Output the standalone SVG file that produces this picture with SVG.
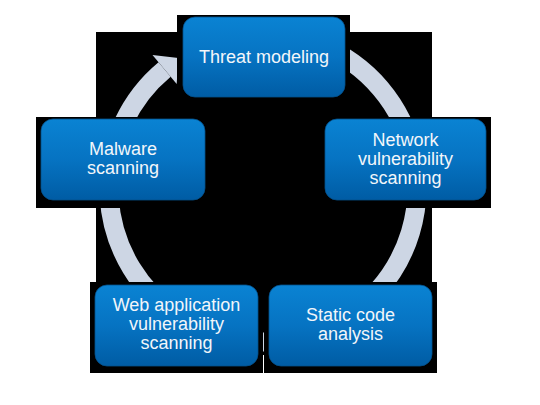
<svg xmlns="http://www.w3.org/2000/svg" width="540" height="405" viewBox="0 0 540 405">
  <defs>
    <linearGradient id="boxGrad" x1="0" y1="0" x2="0" y2="1">
      <stop offset="0" stop-color="#0a83d3"/>
      <stop offset="0.5" stop-color="#0673c2"/>
      <stop offset="1" stop-color="#005ca4"/>
    </linearGradient>
    <style>
      .bg { fill: #000000; }
      .box { fill: url(#boxGrad); stroke: #04508c; stroke-width: 0.8; }
      .lbl { font-family: "Liberation Sans", Arial, sans-serif; font-size: 18px; fill: #f2f6fa; text-anchor: middle; }
      .ring { fill: none; stroke: #cdd6e4; stroke-width: 19; }
      .head { fill: #cdd6e4; }
    </style>
  </defs>
  <rect x="0" y="0" width="540" height="405" fill="#ffffff"/>

  <g id="backdrop">
    <rect class="bg" x="96" y="32" width="336" height="323"/>
  </g>

  <g id="connectors">
    <path class="ring" d="M 263 34 A 154 154 0 1 1 164.6 69.5"/>
    <polygon class="head" points="152.5,54.9 178.4,58.0 176.7,84.1"/>
  </g>

  <g id="threat-modeling">
    <rect class="bg" x="177" y="15" width="173" height="88"/>
    <rect class="box" x="183" y="17" width="162" height="80" rx="12"/>
    <text class="lbl" x="264" y="63">Threat modeling</text>
  </g>

  <g id="malware-scanning">
    <rect class="bg" x="36" y="117" width="175" height="91"/>
    <rect class="box" x="41" y="119" width="164" height="81" rx="12"/>
    <text class="lbl" x="123" y="155">Malware</text>
    <text class="lbl" x="123" y="174">scanning</text>
  </g>

  <g id="network-vulnerability-scanning">
    <rect class="bg" x="319" y="117" width="172" height="91"/>
    <rect class="box" x="325" y="119" width="161" height="81" rx="12"/>
    <text class="lbl" x="405.5" y="146">Network</text>
    <text class="lbl" x="405.5" y="165">vulnerability</text>
    <text class="lbl" x="405.5" y="184">scanning</text>
  </g>

  <g id="web-application-vulnerability-scanning">
    <rect class="bg" x="90" y="282" width="173" height="91"/>
    <rect class="box" x="95" y="285" width="163" height="81" rx="12"/>
    <text class="lbl" x="176.5" y="311">Web application</text>
    <text class="lbl" x="176.5" y="330">vulnerability</text>
    <text class="lbl" x="176.5" y="349">scanning</text>
  </g>

  <g id="static-code-analysis">
    <rect class="bg" x="264" y="282" width="173" height="91"/>
    <rect class="box" x="269" y="285" width="163" height="81" rx="12"/>
    <text class="lbl" x="350.5" y="321">Static code</text>
    <text class="lbl" x="350.5" y="340">analysis</text>
  </g>
</svg>
